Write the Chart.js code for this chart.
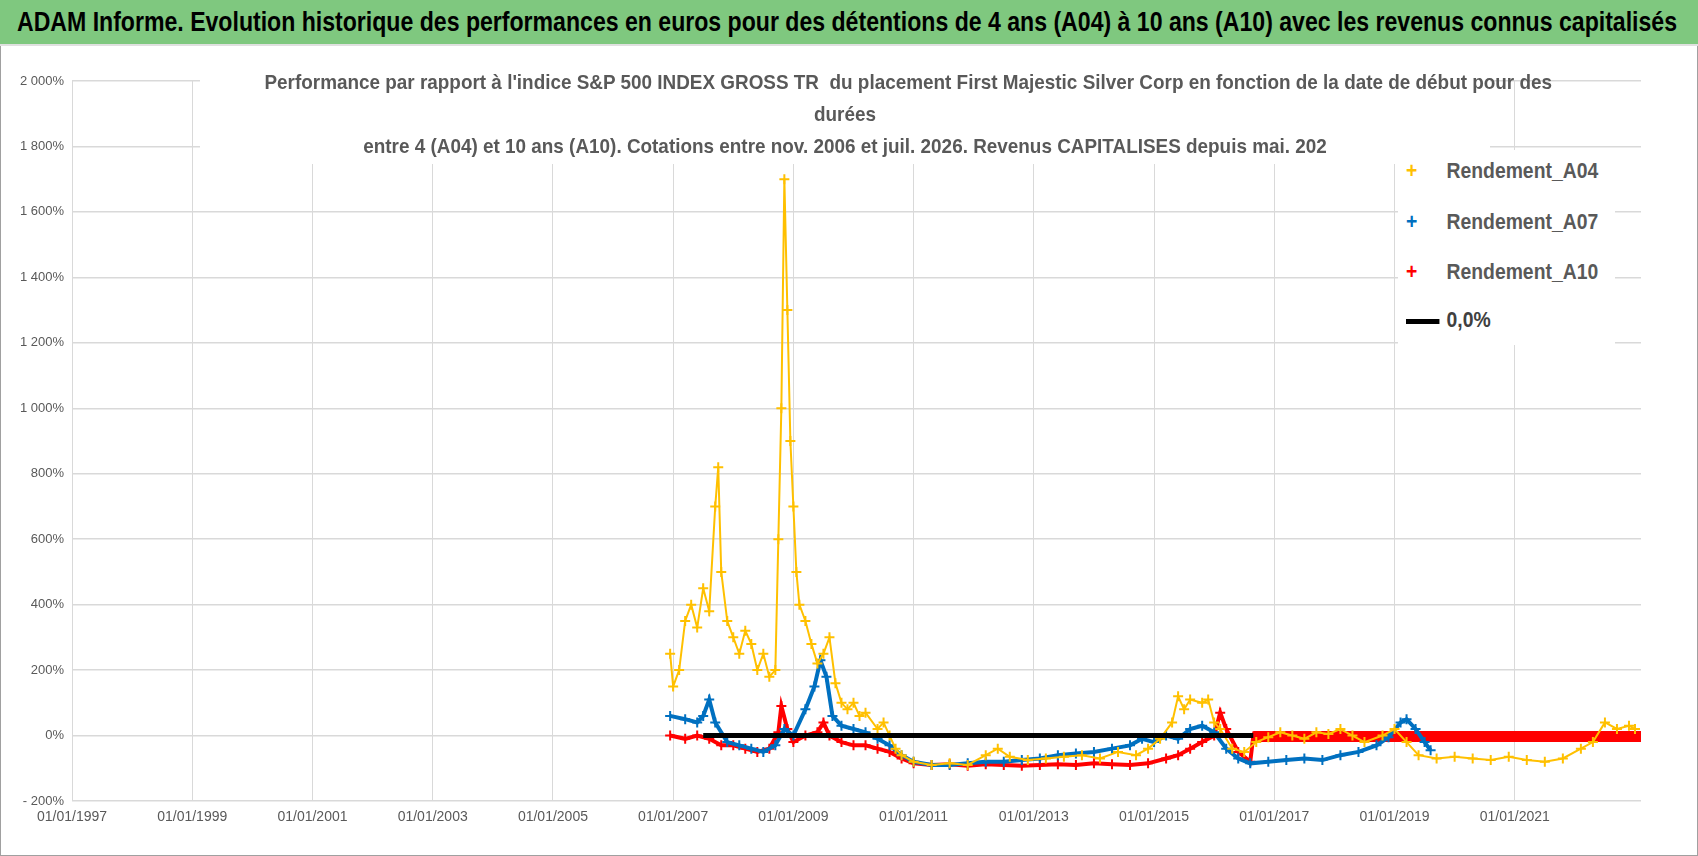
<!DOCTYPE html>
<html>
<head>
<meta charset="utf-8">
<script src="https://cdn.jsdelivr.net/npm/chart.js@4.4.1/dist/chart.umd.min.js"></script>
<style>
  body { margin: 0; width: 1698px; height: 856px; overflow: hidden; background: #fff;
         font-family: "Liberation Sans", sans-serif; }
  #frame { position: absolute; left: 0; top: 0; width: 1696px; height: 854px; border: 1px solid #a0a0a0; }
  #banner { position: absolute; left: 0; top: 0; width: 1698px; height: 46px; background: #7fc87f;
            border-bottom: 2px solid #e0e0e0; box-sizing: border-box; }
  #banner span { position: absolute; left: 17px; top: 7px; font-weight: bold; font-size: 27px; white-space: nowrap;
                 color: #000; transform: scaleX(0.855); transform-origin: left top; }
  #wrap { position: absolute; left: 0; top: 48px; width: 1698px; height: 808px; }
  #subtitle { position: absolute; left: 200px; top: 68px; width: 1290px; height: 96px; background: #fff; }
  #subtitle div { position: absolute; left: 0; width: 1290px; text-align: center; font-weight: bold; font-size: 21px;
                  color: #595959; white-space: nowrap; transform: scaleX(0.9); }
  #legend { position: absolute; left: 1398px; top: 150px; width: 217px; height: 195px; background: #fff;
            font-weight: bold; font-size: 22px; color: #595959; }
  #legend div { position: absolute; left: 8px; white-space: nowrap; transform: scaleX(0.88); transform-origin: left center; }
  #legend span { display: inline-block; width: 46px; font-size: 22px; }
</style>
</head>
<body>
<div id="frame"></div>
<div id="banner"><span>ADAM Informe. Evolution historique des performances en euros pour des détentions de 4 ans (A04) à 10 ans (A10) avec les revenus connus capitalisés</span></div>
<div id="wrap"><canvas id="chart"></canvas></div>
<div id="subtitle">
  <div style="top:2px">Performance par rapport à l'indice S&amp;P 500 INDEX GROSS TR&nbsp; du placement First Majestic Silver Corp en fonction de la date de début pour des</div>
  <div style="top:34px">durées</div>
  <div style="top:66px">entre 4 (A04) et 10 ans (A10). Cotations entre nov. 2006 et juil. 2026. Revenus CAPITALISES depuis mai. 202</div>
</div>
<div id="legend">
  <div style="top:8px"><span style="color:#FFC000">+</span>Rendement_A04</div>
  <div style="top:59px"><span style="color:#0070C0">+</span>Rendement_A07</div>
  <div style="top:109px"><span style="color:#FF0000">+</span>Rendement_A10</div>
  <div style="top:157px;color:#404040"><span style="display:inline-block;width:38px;height:5px;background:#000;vertical-align:middle;margin-right:8px"></span>0,0%</div>
</div>
<script>
// dates as decimal years, values in %
const a04Years = [2006.95,2007.0,2007.1,2007.2,2007.3,2007.4,2007.5,2007.6,2007.7,2007.75,2007.8,2007.9,2008.0,2008.1,2008.2,2008.3,2008.4,2008.5,2008.6,2008.7,2008.75,2008.8,2008.85,2008.9,2008.95,2009.0,2009.05,2009.1,2009.2,2009.3,2009.4,2009.5,2009.6,2009.7,2009.8,2009.9,2010.0,2010.1,2010.2,2010.4,2010.5,2010.6,2010.7,2010.8,2011.0,2011.3,2011.6,2011.9,2012.2,2012.4,2012.6,2012.9,2013.2,2013.5,2013.8,2014.1,2014.4,2014.7,2014.9,2015.1,2015.3,2015.4,2015.5,2015.6,2015.8,2015.9,2016.0,2016.1,2016.3,2016.5,2016.7,2016.9,2017.1,2017.3,2017.5,2017.7,2017.9,2018.1,2018.3,2018.5,2018.8,2019.0,2019.2,2019.4,2019.7,2020.0,2020.3,2020.6,2020.9,2021.2,2021.5,2021.8,2022.1,2022.3,2022.5,2022.7,2022.9,2023.0];
const a04Values = [250,150,200,350,400,330,450,380,700,820,500,350,300,250,320,280,200,250,180,200,600,1000,1700,1300,900,700,500,400,350,280,220,250,300,160,100,80,100,60,70,20,40,0,-40,-60,-80,-90,-85,-90,-60,-40,-65,-75,-70,-65,-60,-70,-50,-60,-40,-10,40,120,80,110,100,110,40,20,-40,-50,-20,-5,10,0,-10,10,5,20,0,-20,0,20,-20,-60,-70,-65,-70,-75,-65,-75,-80,-70,-40,-20,40,20,30,20];

const a07Years = [2006.95,2007.2,2007.4,2007.5,2007.6,2007.7,2007.9,2008.1,2008.3,2008.5,2008.7,2008.85,2009.0,2009.2,2009.35,2009.45,2009.55,2009.65,2009.8,2010.0,2010.2,2010.4,2010.6,2010.8,2011.0,2011.3,2011.6,2011.9,2012.2,2012.5,2012.8,2013.1,2013.4,2013.7,2014.0,2014.3,2014.6,2014.8,2015.0,2015.2,2015.4,2015.6,2015.8,2016.0,2016.2,2016.4,2016.6,2016.9,2017.2,2017.5,2017.8,2018.1,2018.4,2018.7,2018.9,2019.1,2019.2,2019.35,2019.5,2019.6];
const a07Values = [60,50,40,60,110,40,-20,-30,-40,-50,-30,20,0,80,150,230,180,60,30,20,10,-10,-30,-60,-80,-90,-90,-85,-80,-80,-75,-70,-60,-55,-50,-40,-30,-10,-20,0,-10,20,30,10,-40,-70,-85,-80,-75,-70,-75,-60,-50,-30,-5,40,50,20,-20,-45];

const a10Years = [2006.95,2007.2,2007.4,2007.6,2007.8,2008.0,2008.2,2008.4,2008.6,2008.75,2008.8,2008.9,2009.0,2009.2,2009.4,2009.5,2009.6,2009.8,2010.0,2010.2,2010.4,2010.6,2010.8,2011.0,2011.3,2011.6,2011.9,2012.2,2012.5,2012.8,2013.1,2013.4,2013.7,2014.0,2014.3,2014.6,2014.9,2015.2,2015.4,2015.6,2015.8,2016.0,2016.1,2016.2,2016.4,2016.6,2016.65,2017.5,2018.5,2019.5,2020.5,2021.5,2022.5,2023.1];
const a10Values = [0,-10,0,-10,-30,-30,-40,-50,-40,10,90,20,-20,0,10,40,0,-20,-30,-30,-40,-50,-70,-85,-90,-88,-92,-88,-90,-92,-90,-88,-90,-85,-88,-90,-85,-70,-60,-40,-20,0,70,20,-50,-80,-3,-3,-3,-3,-3,-3,-3,-3];

const zeroYears = [2007.5, 2016.65];
const zeroValues = [0, 0];

const yTicks = [-200,0,200,400,600,800,1000,1200,1400,1600,1800,2000];
const xTickYears = [1997,1999,2001,2003,2005,2007,2009,2011,2013,2015,2017,2019,2021];

const pts = (xs, ys) => xs.map((x, i) => ({x: x, y: ys[i]}));
const fmtPct = v => (v < 0 ? '- ' : '') + Math.abs(v).toString().replace(/\B(?=(\d{3})+(?!\d))/g, ' ') + '%';

function series(label, data, color, lw) {
  return { label, data, borderColor: color, backgroundColor: color, pointStyle: 'cross',
           pointRadius: 5, pointBorderWidth: 2, showLine: true, borderWidth: lw };
}

const a10 = series('Rendement_A10', pts(a10Years, a10Values), '#FF0000', 4);
// the flat band after mid-2016 is drawn thick like in the original
a10.segment = { borderWidth: ctx => ctx.p0.parsed.x >= 2016.64 ? 11 : 4 };

new Chart(document.getElementById('chart'), {
  type: 'scatter',
  data: {
    datasets: [
      { label: '0,0%', data: pts(zeroYears, zeroValues), borderColor: '#000', borderWidth: 5,
        pointRadius: 0, showLine: true },
      series('Rendement_A04', pts(a04Years, a04Values), '#FFC000', 2),
      series('Rendement_A07', pts(a07Years, a07Values), '#0070C0', 4),
      a10
    ]
  },
  options: {
    animation: false,
    responsive: true,
    maintainAspectRatio: false,
    layout: { padding: { left: 0, right: 57, top: 33, bottom: 25 } },
    plugins: { legend: { display: false }, tooltip: { enabled: false } },
    scales: {
      x: {
        type: 'linear', min: 1997, max: 2023.1,
        afterBuildTicks: axis => { axis.ticks = xTickYears.map(v => ({value: v})); },
        afterFit: axis => { axis.height = 30; },
        ticks: { callback: v => '01/01/' + v, font: { size: 14 }, color: '#595959', maxRotation: 0, padding: 8 },
        grid: { color: '#d9d9d9', drawTicks: false },
        border: { display: false }
      },
      y: {
        min: -200, max: 2000,
        afterBuildTicks: axis => { axis.ticks = yTicks.map(v => ({value: v})); },
        afterFit: axis => { axis.width = 72; },
        ticks: { callback: v => fmtPct(v), font: { size: 13 }, color: '#595959', padding: 8 },
        grid: { color: '#d9d9d9', lineWidth: 1.5, drawTicks: false },
        border: { display: false }
      }
    }
  }
});
</script>
</body>
</html>
